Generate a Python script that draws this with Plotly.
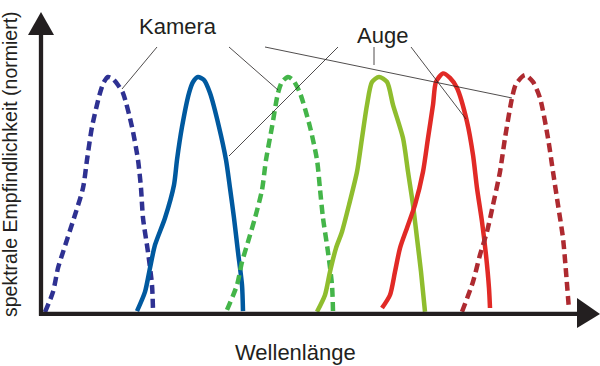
import plotly.graph_objects as go

# ---- data: relative wavelength (arbitrary units) and normalised spectral sensitivity ----
# Kamera (dashed curves)
kamera_blau_x = [45, 53, 58, 63, 74, 83, 87, 92, 100, 104, 108, 113, 118, 123, 132, 138, 141, 143, 148, 152, 153]
kamera_blau_y = [0.004, 0.089, 0.190, 0.257, 0.401, 0.527, 0.646, 0.785, 0.928, 0.975, 0.996, 0.987, 0.962,
                 0.928, 0.785, 0.646, 0.527, 0.401, 0.257, 0.118, 0.013]

kamera_gruen_x = [227, 237, 242, 248, 255, 262, 266, 272, 278, 282, 288, 293, 300, 310, 317, 320, 323, 328, 332, 333]
kamera_gruen_y = [0.013, 0.118, 0.215, 0.300, 0.401, 0.519, 0.646, 0.785, 0.928, 0.975, 0.996, 0.983, 0.928,
                  0.785, 0.646, 0.523, 0.401, 0.257, 0.118, 0.008]

kamera_rot_x = [462, 473, 480, 487, 493, 500, 505, 512, 516, 525, 533, 540, 548, 553, 558, 563, 566, 569]
kamera_rot_y = [0.005, 0.132, 0.245, 0.343, 0.456, 0.596, 0.738, 0.907, 0.966, 1.004, 0.975, 0.907, 0.738,
                0.596, 0.456, 0.316, 0.174, 0.013]

# Auge (solid curves)
auge_blau_x = [137, 145, 150, 155, 165, 174, 177, 182, 189, 193, 198, 204, 210, 219, 226, 230, 234, 238, 242, 243]
auge_blau_y = [0.008, 0.089, 0.190, 0.287, 0.401, 0.540, 0.646, 0.785, 0.928, 0.975, 0.996, 0.983, 0.928,
               0.785, 0.646, 0.527, 0.401, 0.257, 0.118, 0.008]

auge_gruen_x = [317, 325, 330, 336, 342, 349, 357, 362, 367, 372, 379, 387, 393, 403, 408, 413, 417, 421, 425]
auge_gruen_y = [0.005, 0.076, 0.174, 0.274, 0.343, 0.456, 0.596, 0.738, 0.878, 0.975, 0.996, 0.975, 0.878,
                0.738, 0.596, 0.456, 0.316, 0.174, 0.005]

auge_rot_x = [382, 390, 395, 400, 407, 415, 423, 428, 433, 436, 443, 450, 457, 467, 473, 477, 482, 486, 489, 490]
auge_rot_y = [0.021, 0.076, 0.174, 0.274, 0.359, 0.456, 0.596, 0.738, 0.878, 0.975, 1.011, 0.992, 0.949,
              0.807, 0.667, 0.527, 0.385, 0.245, 0.105, 0.021]

labels = {"kamera": "Kamera", "auge": "Auge",
          "x": "Wellenlänge", "y": "spektrale Empfindlichkeit (normiert)"}

INK = "#231f20"
FONT = "Liberation Sans, Arial, sans-serif"
W, H = 600, 366

series = [
    (kamera_blau_x, kamera_blau_y, "#2e3192", "9px,5px", "Kamera Blau"),
    (auge_blau_x, auge_blau_y, "#00599f", "solid", "Auge Blau"),
    (kamera_gruen_x, kamera_gruen_y, "#44b549", "9px,5px", "Kamera Grün"),
    (auge_gruen_x, auge_gruen_y, "#8fbd2e", "solid", "Auge Grün"),
    (auge_rot_x, auge_rot_y, "#e12a26", "solid", "Auge Rot"),
    (kamera_rot_x, kamera_rot_y, "#ae2a30", "9px,5px", "Kamera Rot"),
]

fig = go.Figure()
for xs, ys, col, dash, name in series:
    fig.add_trace(go.Scatter(x=xs, y=ys, mode="lines", name=name,
                             line=dict(color=col, width=4.5, dash=dash, shape="spline", smoothing=0.7),
                             hoverinfo="name"))

def px(x):
    return x / W

def py(y):
    return 1 - y / H

shapes = []
# axes with arrows (data coordinates: y=0 is the baseline)
shapes.append(dict(type="line", xref="x", yref="y", x0=41, x1=41, y0=-0.012, y1=1.18,
                   line=dict(color=INK, width=4.3)))
shapes.append(dict(type="path", xref="x", yref="y",
                   path="M 28,1.173 L 54,1.173 L 41,1.270 Z", fillcolor=INK, line=dict(color=INK, width=0)))
shapes.append(dict(type="line", xref="x", yref="y", x0=39, x1=580, y0=-0.004, y1=-0.004,
                   line=dict(color=INK, width=4.3)))
shapes.append(dict(type="path", xref="x", yref="y",
                   path="M 577,0.063 L 577,-0.063 L 600,-0.004 Z", fillcolor=INK, line=dict(color=INK, width=0)))

# leader lines (paper coordinates)
leaders = [((157, 47), (122, 89)), ((229, 47), (278, 90)), ((265, 47), (512, 98)),
           ((338, 47), (229, 156)), ((374, 47), (374, 65)), ((411, 47), (466, 119))]
for (xa, ya), (xb, yb) in leaders:
    shapes.append(dict(type="line", xref="paper", yref="paper",
                       x0=px(xa), y0=py(ya), x1=px(xb), y1=py(yb),
                       line=dict(color=INK, width=0.8)))

annotations = [
    dict(text=labels["kamera"], x=px(178), y=py(27), xref="paper", yref="paper", showarrow=False,
         xanchor="center", yanchor="middle", font=dict(family=FONT, size=22, color=INK)),
    dict(text=labels["auge"], x=px(382), y=py(35), xref="paper", yref="paper", showarrow=False,
         xanchor="center", yanchor="middle", font=dict(family=FONT, size=22, color=INK)),
    dict(text=labels["x"], x=px(295), y=py(352), xref="paper", yref="paper", showarrow=False,
         xanchor="center", yanchor="middle", font=dict(family=FONT, size=22, color=INK)),
    dict(text=labels["y"], x=px(10), y=py(164), xref="paper", yref="paper", showarrow=False,
         xanchor="center", yanchor="middle", textangle=-90, font=dict(family=FONT, size=19.5, color=INK)),
]

fig.update_layout(
    width=W, height=H, margin=dict(l=0, r=0, t=0, b=0),
    paper_bgcolor="white", plot_bgcolor="white", showlegend=False,
    xaxis=dict(range=[0, 600], visible=False, fixedrange=True),
    yaxis=dict(range=[-53 / 237, 313 / 237], visible=False, fixedrange=True),
    shapes=shapes, annotations=annotations,
)

fig.write_html("out.html", config={"displayModeBar": False},
               post_script="document.body.style.margin='0';document.body.style.overflow='hidden';")
